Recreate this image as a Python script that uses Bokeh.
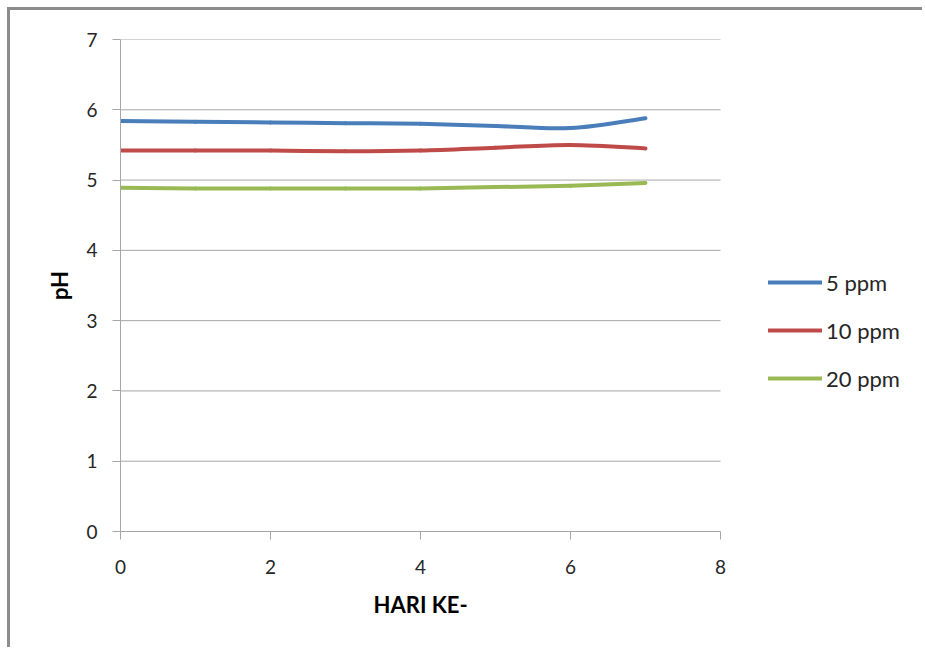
import numpy as np
from bokeh.plotting import figure
from bokeh.layouts import column, row
from bokeh.models import (Range1d, FixedTicker, Legend, LegendItem,
                          ColumnDataSource, Title, Spacer)
from bokeh.embed import file_html
from bokeh.resources import INLINE

# pH readings per day for each concentration
days = [0, 1, 2, 3, 4, 5, 6, 7]
ph_5ppm = [5.84, 5.83, 5.82, 5.81, 5.80, 5.77, 5.74, 5.88]
ph_10ppm = [5.42, 5.42, 5.42, 5.41, 5.42, 5.46, 5.50, 5.45]
ph_20ppm = [4.89, 4.88, 4.88, 4.88, 4.88, 4.90, 4.92, 4.96]

series_names = ["5 ppm", "10 ppm", "20 ppm"]
series_colors = ["#4A7EBB", "#BE4B48", "#98B954"]
x_ticks = [0, 2, 4, 6, 8]
y_ticks = [0, 1, 2, 3, 4, 5, 6, 7]

FONT = "Lato"
GRID = "#A6A6A6"


def smooth_segments(xs, ys, k=1.0 / 6.0):
    """Cubic bezier segments through the points (Catmull-Rom style smoothing)."""
    x = np.asarray(xs, dtype=float)
    y = np.asarray(ys, dtype=float)
    n = len(x)
    xp = np.concatenate([[x[0]], x, [x[-1]]])
    yp = np.concatenate([[y[0]], y, [y[-1]]])
    seg = dict(x0=[], y0=[], x1=[], y1=[], cx0=[], cy0=[], cx1=[], cy1=[])
    for i in range(n - 1):
        a, b, c, d = i, i + 1, i + 2, i + 3
        seg["x0"].append(xp[b]); seg["y0"].append(yp[b])
        seg["x1"].append(xp[c]); seg["y1"].append(yp[c])
        seg["cx0"].append(xp[b] + (xp[c] - xp[a]) * k)
        seg["cy0"].append(yp[b] + (yp[c] - yp[a]) * k)
        seg["cx1"].append(xp[c] - (xp[d] - xp[b]) * k)
        seg["cy1"].append(yp[c] - (yp[d] - yp[b]) * k)
    return seg


# The plot frame runs on to the right so the legend can live inside it;
# the axis and the grid lines only cover the 0..8 day span.
# A grey edge along the top and left of the chart area comes from a shadow.
p = figure(width=915, height=640, output_backend="svg", toolbar_location=None,
           x_range=Range1d(0, 10.6), y_range=Range1d(0, 7),
           min_border_left=110, min_border_right=10,
           min_border_top=29, min_border_bottom=119,
           background_fill_color="white", border_fill_color="white",
           styles={"box-shadow": "-3px -3px 0px 0px #8C8C8C"})
p.outline_line_color = None
p.xgrid.grid_line_color = None
p.ygrid.grid_line_color = None

# horizontal grid lines across the day span
p.segment(x0=x_ticks[0], x1=x_ticks[-1], y0=y_ticks[1:], y1=y_ticks[1:],
          line_color=GRID, line_width=1)

renderers = []
for name, col, vals in zip(series_names, series_colors, [ph_5ppm, ph_10ppm, ph_20ppm]):
    src = ColumnDataSource(smooth_segments(days, vals))
    r = p.bezier(x0="x0", y0="y0", x1="x1", y1="y1", cx0="cx0", cy0="cy0",
                 cx1="cx1", cy1="cy1", source=src,
                 line_color=col, line_width=4, line_cap="round")
    renderers.append((name, r))

# axes
p.xaxis.ticker = FixedTicker(ticks=x_ticks)
p.yaxis.ticker = FixedTicker(ticks=y_ticks)
p.xaxis.bounds = (x_ticks[0], x_ticks[-1])
for ax in (p.xaxis[0], p.yaxis[0]):
    ax.axis_line_color = GRID
    ax.major_tick_line_color = GRID
    ax.major_tick_in = 0
    ax.major_tick_out = 8
    ax.minor_tick_line_color = None
    ax.major_label_text_font = FONT
    ax.major_label_text_font_size = "19px"
    ax.major_label_text_color = "#262626"
    ax.axis_label_text_font = FONT
    ax.axis_label_text_font_size = "22px"
    ax.axis_label_text_font_style = "bold"
    ax.axis_label_text_color = "#000000"

p.yaxis.axis_label = "pH"
p.xaxis.major_label_standoff = 20
p.yaxis.major_label_standoff = 15
p.yaxis.axis_label_standoff = 10

# x axis title, centred under the 0..8 span
p.add_layout(Title(text="HARI KE-", align="left", offset=253, standoff=24,
                   text_font=FONT, text_font_size="22px",
                   text_font_style="bold", text_color="#000000"), "below")

legend = Legend(items=[LegendItem(label=n, renderers=[r]) for n, r in renderers],
                location=(648, 139), orientation="vertical",
                glyph_width=54, glyph_height=28, label_height=28,
                spacing=20, padding=0, margin=0, label_standoff=4,
                label_text_font=FONT, label_text_font_size="22px",
                label_text_color="#262626",
                border_line_color=None, background_fill_alpha=0)
p.add_layout(legend)

page = column(Spacer(height=10, width=925),
              row(Spacer(width=10, height=640), p, spacing=0),
              spacing=0)

open("out.html", "w").write(file_html(page, INLINE))
